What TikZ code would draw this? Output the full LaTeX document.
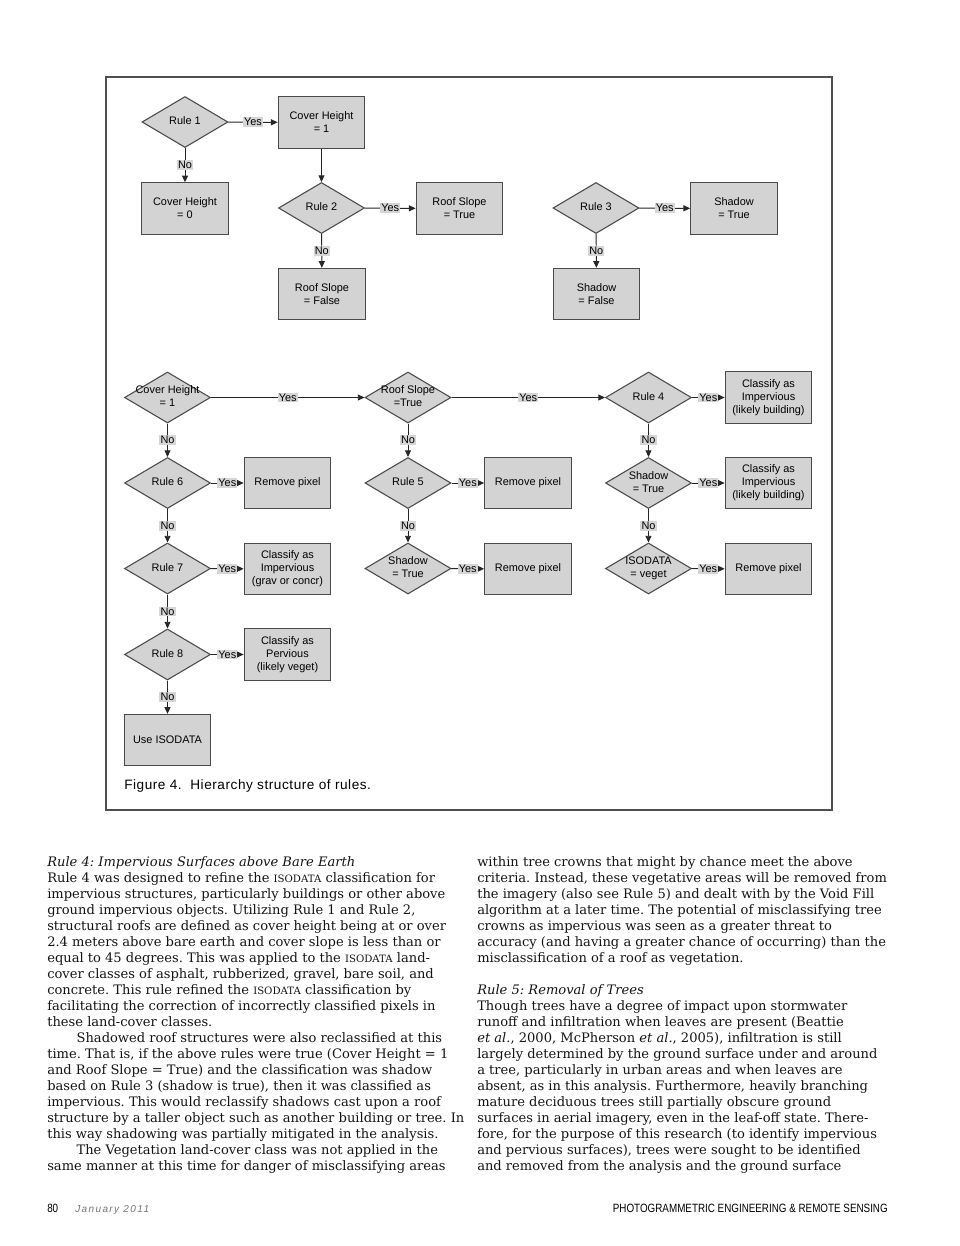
\documentclass[tikz,border=0pt]{standalone}
\usepackage{fontspec}
\setmainfont{DejaVu Serif}
\setsansfont{Liberation Sans}
\newfontfamily\condsans[FakeStretch=0.82]{Liberation Sans}
\usetikzlibrary{arrows.meta,shapes.geometric}
\definecolor{boxfill}{HTML}{D3D3D3}
\definecolor{boxline}{HTML}{4A4A4A}
\definecolor{yesnofill}{HTML}{D6D6D6}
\definecolor{framegray}{HTML}{4F4F4F}
\newcommand{\dlabel}[1]{\makebox[0pt]{\begin{tabular}{@{}c@{}}#1\end{tabular}}}
\newcommand{\isod}{{\fontsize{7.6}{12}\selectfont ISODATA}}

\tikzset{
  ruledia/.style={diamond, draw=boxline, fill=boxfill, line width=0.8pt,
    minimum width=64.5pt, minimum height=38.25pt, inner sep=0pt,
    font=\sffamily\fontsize{8.2}{9.75}\selectfont},
  result/.style={rectangle, draw=boxline, fill=boxfill, line width=0.8pt,
    minimum width=65pt, minimum height=38.5pt, inner sep=1pt, align=center,
    font=\sffamily\fontsize{8.2}{9.75}\selectfont},
  flow/.style={draw=black!85, line width=0.7pt, -{Triangle[length=5pt,width=4.5pt]}},
  yesno/.style={fill=yesnofill, inner sep=0.8pt, font=\sffamily\fontsize{8.2}{9}\selectfont},
  bodytext/.style={anchor=north west, inner sep=0pt, align=left,
    font=\fontsize{9.8}{12}\selectfont\frenchspacing, text=black!92},
}

\begin{document}
\begin{tikzpicture}[x=0.75pt, y=-0.75pt]
  \useasboundingbox (0,0) rectangle (960,1246);

  % figure frame
  \draw[framegray, line width=1.4pt] (106,77) rectangle (832,810);

  % Rules 1 to 3
  \node[ruledia] (r1) at (185,122) {\dlabel{Rule 1}};
  \node[result] (ch1) at (321.5,122.5) {Cover Height\\= 1};
  \node[result] (ch0) at (185,208.5) {Cover Height\\= 0};
  \node[ruledia] (r2) at (321.5,208) {\dlabel{Rule 2}};
  \node[result] (rst) at (459.5,208.5) {Roof Slope\\= True};
  \node[result] (rsf) at (322,294) {Roof Slope\\= False};
  \node[ruledia] (r3) at (596,208) {\dlabel{Rule 3}};
  \node[result] (sht) at (734,208.5) {Shadow\\= True};
  \node[result] (shf) at (596.5,294) {Shadow\\= False};

  \draw[flow] (r1) -- node[yesno] {Yes} (ch1);
  \draw[flow] (r1) -- node[yesno] {No} (ch0);
  \draw[flow] (ch1) -- (r2);
  \draw[flow] (r2) -- node[yesno] {Yes} (rst);
  \draw[flow] (r2) -- node[yesno] {No} (rsf);
  \draw[flow] (r3) -- node[yesno] {Yes} (sht);
  \draw[flow] (r3) -- node[yesno] {No} (shf);

  % hierarchy of the rules
  \node[ruledia] (ch) at (167.5,397.5) {\dlabel{Cover Height\\= 1}};
  \node[ruledia] (rs) at (408,397.5) {\dlabel{Roof Slope\\=True}};
  \node[ruledia] (r4) at (648.5,397.5) {\dlabel{Rule 4}};
  \node[result] (imp1) at (768.5,397.5) {Classify as\\Impervious\\(likely building)};

  \node[ruledia] (r6) at (167.5,483) {\dlabel{Rule 6}};
  \node[result] (rm1) at (287.5,483) {Remove pixel};
  \node[ruledia] (r7) at (167.5,568.5) {\dlabel{Rule 7}};
  \node[result] (imp3) at (287.5,569) {Classify as\\Impervious\\(grav or concr)};
  \node[ruledia] (r8) at (167.5,654.5) {\dlabel{Rule 8}};
  \node[result] (perv) at (287.5,654.5) {Classify as\\Pervious\\(likely veget)};
  \node[result] (iso) at (167.5,740) {Use ISODATA};

  \node[ruledia] (r5) at (408,483) {\dlabel{Rule 5}};
  \node[result] (rm2) at (528,483) {Remove pixel};
  \node[ruledia] (sh1) at (408,568.5) {\dlabel{Shadow\\= True}};
  \node[result] (rm3) at (528,569) {Remove pixel};

  \node[ruledia] (sh2) at (648.5,483) {\dlabel{Shadow\\= True}};
  \node[result] (imp2) at (768.5,483) {Classify as\\Impervious\\(likely building)};
  \node[ruledia] (veg) at (648.5,568.5) {\dlabel{ISODATA\\= veget}};
  \node[result] (rm4) at (768.5,569) {Remove pixel};

  \draw[flow] (ch) -- node[yesno] {Yes} (rs);
  \draw[flow] (rs) -- node[yesno] {Yes} (r4);
  \draw[flow] (r4) -- node[yesno] {Yes} (imp1);
  \draw[flow] (ch) -- node[yesno] {No} (r6);
  \draw[flow] (r6) -- node[yesno] {Yes} (rm1);
  \draw[flow] (r6) -- node[yesno] {No} (r7);
  \draw[flow] (r7) -- node[yesno] {Yes} (imp3);
  \draw[flow] (r7) -- node[yesno] {No} (r8);
  \draw[flow] (r8) -- node[yesno] {Yes} (perv);
  \draw[flow] (r8) -- node[yesno] {No} (iso);
  \draw[flow] (rs) -- node[yesno] {No} (r5);
  \draw[flow] (r5) -- node[yesno] {Yes} (rm2);
  \draw[flow] (r5) -- node[yesno] {No} (sh1);
  \draw[flow] (sh1) -- node[yesno] {Yes} (rm3);
  \draw[flow] (r4) -- node[yesno] {No} (sh2);
  \draw[flow] (sh2) -- node[yesno] {Yes} (imp2);
  \draw[flow] (sh2) -- node[yesno] {No} (veg);
  \draw[flow] (veg) -- node[yesno] {Yes} (rm4);

  \node[anchor=west, inner sep=0pt, font=\sffamily\fontsize{10.2}{11}\selectfont\addfontfeatures{LetterSpace=4}] (caption) at (124,786)
    {Figure 4.\ \ Hierarchy structure of rules.};

  % body text, two columns
  \node[bodytext] (colleft) at (47,856) {\textit{Rule 4: Impervious Surfaces above Bare Earth}\\
    Rule 4 was designed to refine the \isod{} classification for\\
    impervious structures, particularly buildings or other above\\
    ground impervious objects. Utilizing Rule 1 and Rule 2,\\
    structural roofs are defined as cover height being at or over\\
    2.4 meters above bare earth and cover slope is less than or\\
    equal to 45 degrees. This was applied to the \isod{} land-\\
    cover classes of asphalt, rubberized, gravel, bare soil, and\\
    concrete. This rule refined the \isod{} classification by\\
    facilitating the correction of incorrectly classified pixels in\\
    these land-cover classes.\\
    \hspace*{22pt}Shadowed roof structures were also reclassified at this\\
    time. That is, if the above rules were true (Cover Height = 1\\
    and Roof Slope = True) and the classification was shadow\\
    based on Rule 3 (shadow is true), then it was classified as\\
    impervious. This would reclassify shadows cast upon a roof\\
    structure by a taller object such as another building or tree. In\\
    this way shadowing was partially mitigated in the analysis.\\
    \hspace*{22pt}The Vegetation land-cover class was not applied in the\\
    same manner at this time for danger of misclassifying areas};

  \node[bodytext] (colright) at (477,856) {within tree crowns that might by chance meet the above\\
    criteria. Instead, these vegetative areas will be removed from\\
    the imagery (also see Rule 5) and dealt with by the Void Fill\\
    algorithm at a later time. The potential of misclassifying tree\\
    crowns as impervious was seen as a greater threat to\\
    accuracy (and having a greater chance of occurring) than the\\
    misclassification of a roof as vegetation.\\[12pt]
    \textit{Rule 5: Removal of Trees}\\
    Though trees have a degree of impact upon stormwater\\
    runoff and infiltration when leaves are present (Beattie\\
    \textit{et al.}, 2000, McPherson \textit{et al.}, 2005), infiltration is still\\
    largely determined by the ground surface under and around\\
    a tree, particularly in urban areas and when leaves are\\
    absent, as in this analysis. Furthermore, heavily branching\\
    mature deciduous trees still partially obscure ground\\
    surfaces in aerial imagery, even in the leaf-off state. There-\\
    fore, for the purpose of this research (to identify impervious\\
    and pervious surfaces), trees were sought to be identified\\
    and removed from the analysis and the ground surface};

  % page footer
  \node[anchor=base west, inner sep=0pt, font=\condsans\fontsize{9}{10}\selectfont] (pagenum) at (47,1212) {80};
  \node[anchor=base west, inner sep=0pt, text=black!55,
    font=\sffamily\itshape\fontsize{7.5}{9}\selectfont\addfontfeatures{LetterSpace=14}] (issue) at (75,1212) {January 2011};
  \node[anchor=base east, inner sep=0pt, font=\condsans\fontsize{9}{10}\selectfont] (journal) at (888,1212)
    {PHOTOGRAMMETRIC ENGINEERING \& REMOTE SENSING};
\end{tikzpicture}
\end{document}
